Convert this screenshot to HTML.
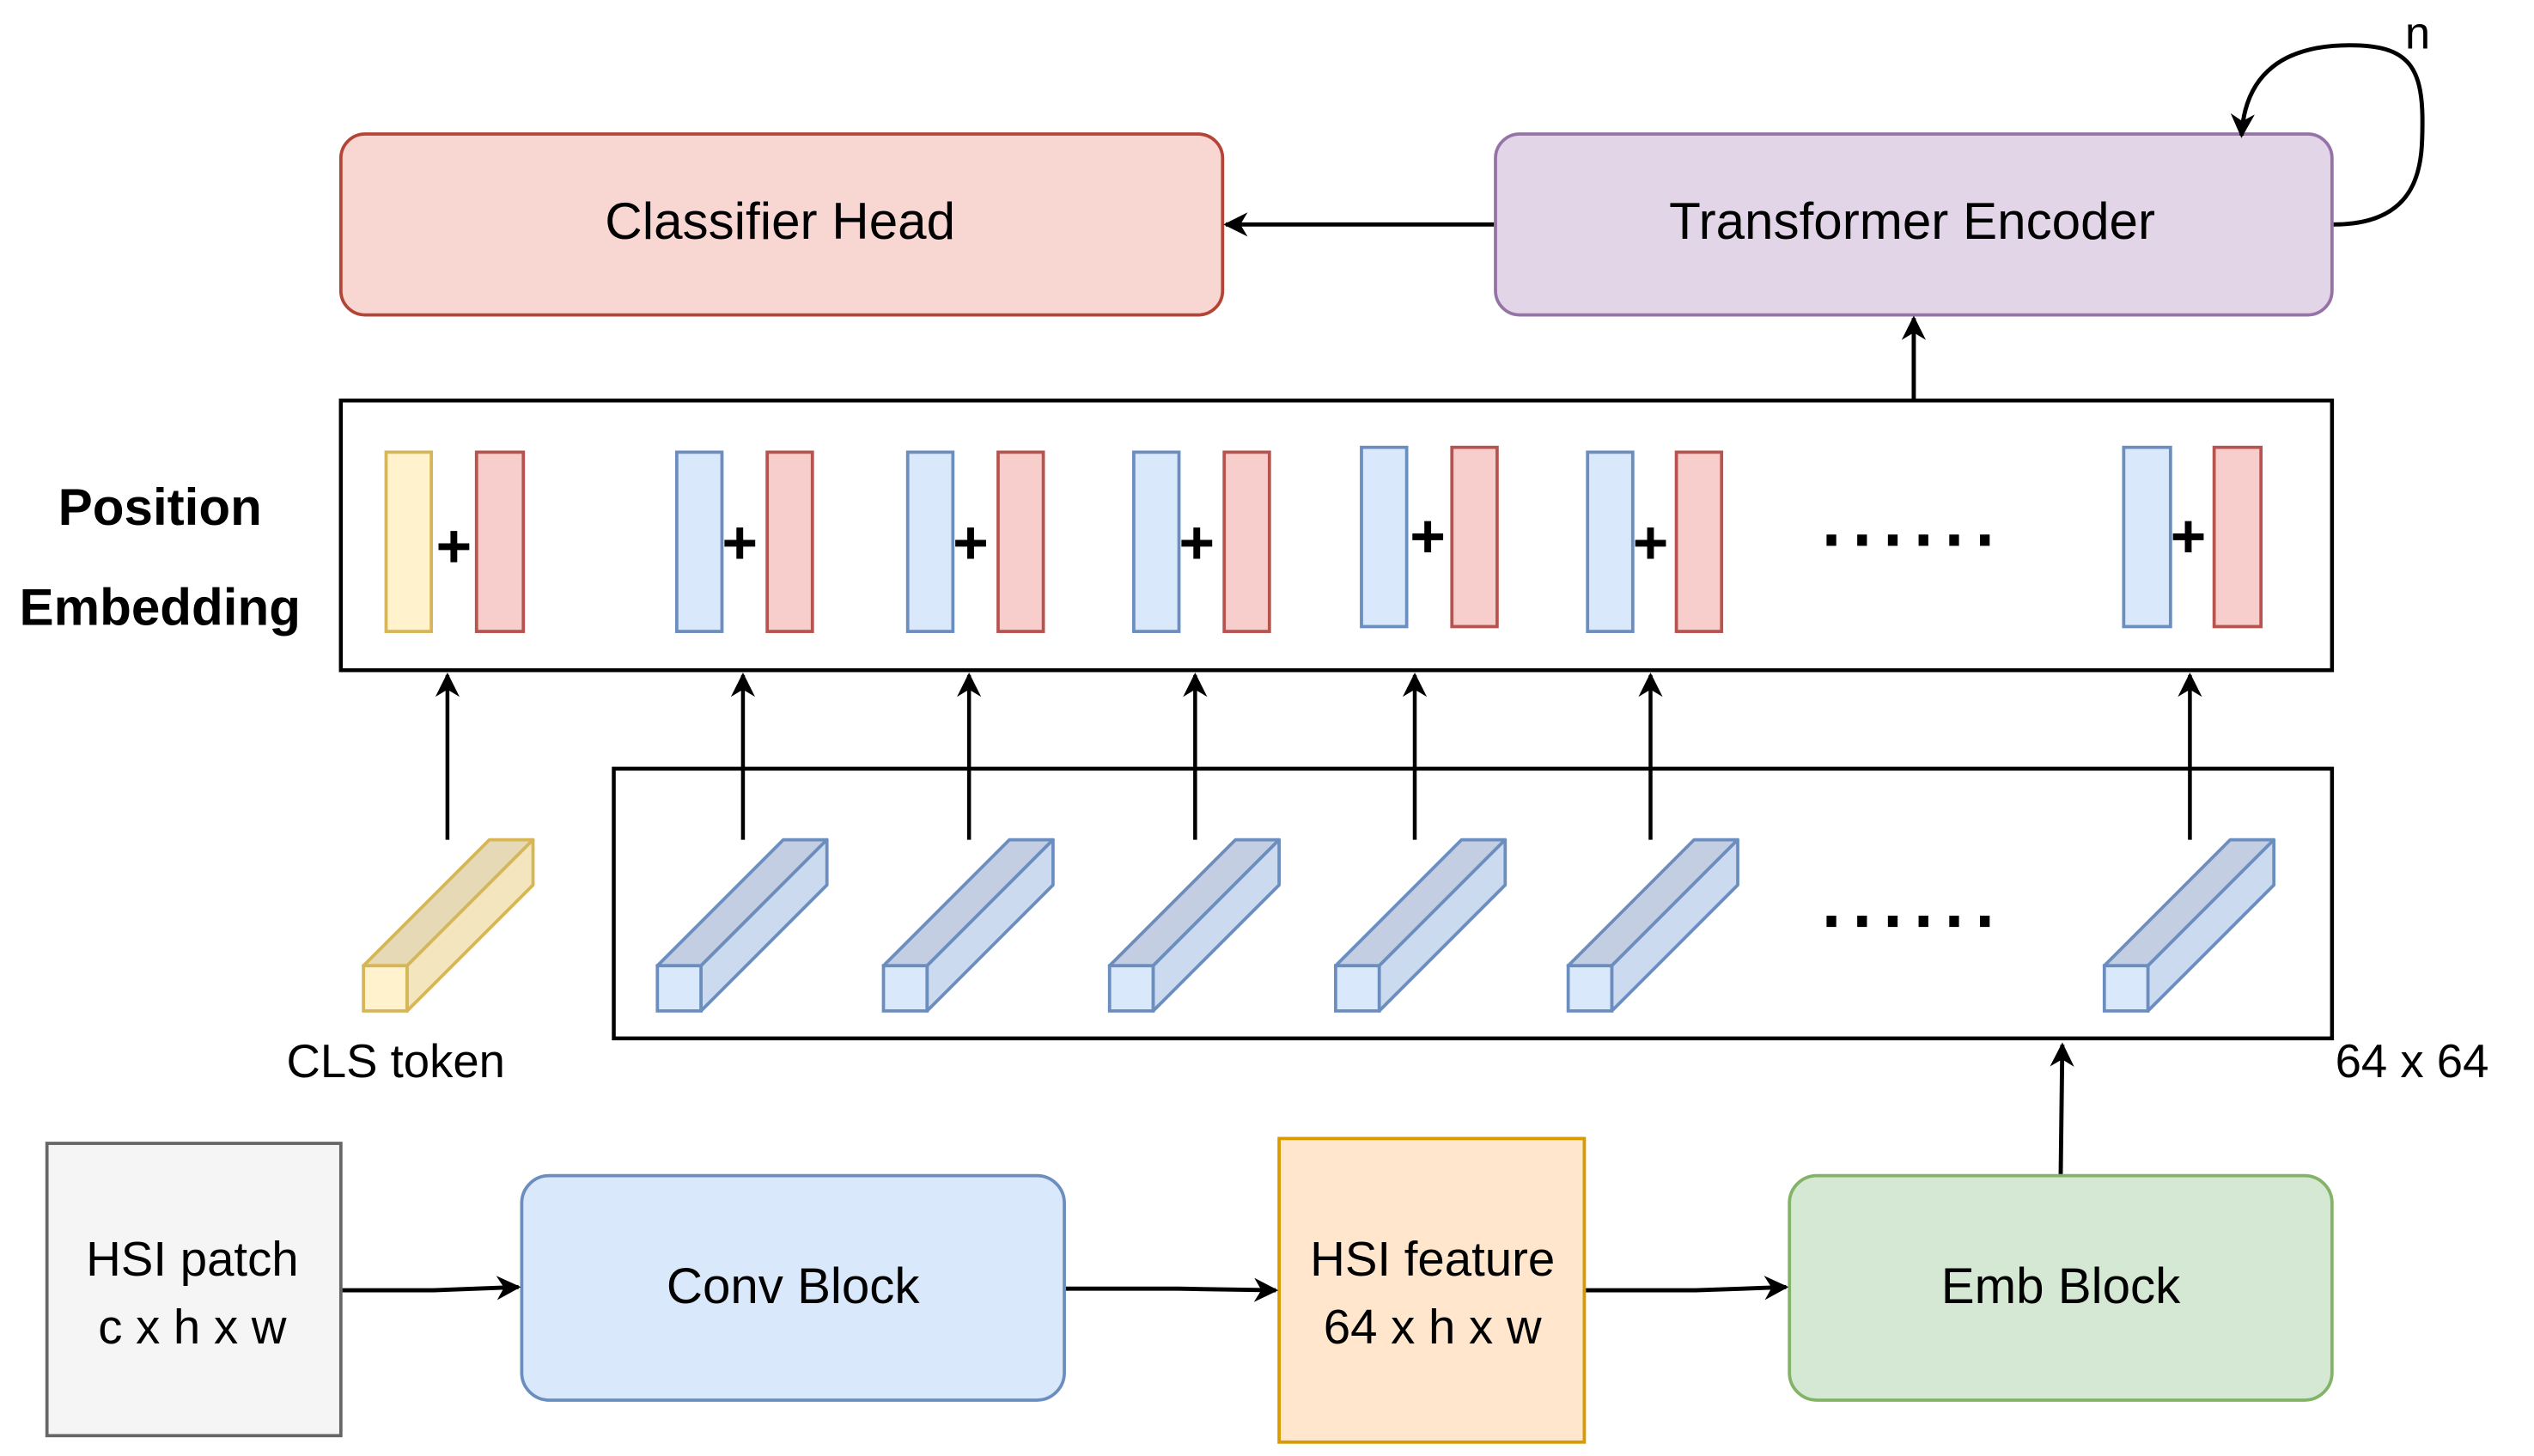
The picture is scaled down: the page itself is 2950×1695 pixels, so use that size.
<!DOCTYPE html>
<html><head><meta charset="utf-8"><style>
html,body{margin:0;padding:0;background:#fff;}
svg{display:block;}
text{font-family:"Liberation Sans",Arial,sans-serif;fill:#000;}
</style></head><body>
<svg width="2950" height="1695" viewBox="0 0 1569 901.6" xmlns="http://www.w3.org/2000/svg">
<defs>
<marker id="ar" viewBox="0 0 10 10" refX="9" refY="5" markerWidth="15" markerHeight="15" markerUnits="userSpaceOnUse" orient="auto">
<path d="M0,0 L10,5 L0,10 L3,5 Z" fill="#000"/>
</marker>
<g id="cube">
<polygon points="0,0 27,0 105,-78 78,-78" fill="#c3cee2" stroke="#6c8ebf" stroke-width="2" stroke-linejoin="round"/>
<polygon points="27,0 27,28 105,-50 105,-78" fill="#ccdaf0" stroke="#6c8ebf" stroke-width="2" stroke-linejoin="round"/>
<rect x="0" y="0" width="27" height="28" fill="#dae8fc" stroke="#6c8ebf" stroke-width="2"/>
</g>
</defs>

<rect x="211" y="83" width="546" height="112" rx="15" fill="#f8d7d3" stroke="#b44435" stroke-width="2"/>
<text x="483" y="148" font-size="32" text-anchor="middle">Classifier Head</text>

<rect x="926" y="83" width="518" height="112" rx="15" fill="#e1d5e7" stroke="#9673a6" stroke-width="2"/>
<text x="1184" y="148" font-size="32" text-anchor="middle">Transformer Encoder</text>
<line x1="925" y1="139" x2="759" y2="139" stroke="#000" stroke-width="2.6" marker-end="url(#ar)"/>
<path d="M1445,139 C1500,139 1500,100 1500,75 C1500,40 1490,28 1455,28 C1415,28 1390,45 1388,84" fill="none" stroke="#000" stroke-width="2.6" marker-end="url(#ar)"/>
<text x="1497" y="30" font-size="28" text-anchor="middle">n</text>

<rect x="211" y="248" width="1233" height="167" fill="#fff" stroke="#000" stroke-width="2.4"/>
<line x1="1185" y1="247" x2="1185" y2="197" stroke="#000" stroke-width="2.6" marker-end="url(#ar)"/>
<text x="99" y="325" font-size="32" font-weight="bold" text-anchor="middle">Position</text>
<text x="99" y="387" font-size="32" font-weight="bold" text-anchor="middle">Embedding</text>

<rect x="239" y="280" width="28" height="111" fill="#fff2cc" stroke="#d6b656" stroke-width="2"/>
<rect x="295" y="280" width="29" height="111" fill="#f8cecc" stroke="#b85450" stroke-width="2"/>
<text x="281" y="351" font-size="38" font-weight="bold" text-anchor="middle">+</text>

<g fill="#dae8fc" stroke="#6c8ebf" stroke-width="2">
<rect x="419" y="280" width="28" height="111"/><rect x="562" y="280" width="28" height="111"/>
<rect x="702" y="280" width="28" height="111"/><rect x="843" y="277" width="28" height="111"/>
<rect x="983" y="280" width="28" height="111"/><rect x="1315" y="277" width="29" height="111"/>
</g>
<g fill="#f8cecc" stroke="#b85450" stroke-width="2">
<rect x="475" y="280" width="28" height="111"/><rect x="618" y="280" width="28" height="111"/>
<rect x="758" y="280" width="28" height="111"/><rect x="899" y="277" width="28" height="111"/>
<rect x="1038" y="280" width="28" height="111"/><rect x="1371" y="277" width="29" height="111"/>
</g>
<g font-size="38" font-weight="bold" text-anchor="middle">
<text x="458" y="349">+</text><text x="601" y="349">+</text><text x="741" y="349">+</text>
<text x="884" y="345">+</text><text x="1022" y="349">+</text><text x="1355" y="345">+</text>
</g>
<g fill="#000">
<rect x="1131" y="331" width="6" height="7"/><rect x="1150" y="331" width="6" height="7"/><rect x="1169" y="331" width="6" height="7"/>
<rect x="1188" y="331" width="6" height="7"/><rect x="1207" y="331" width="6" height="7"/><rect x="1226" y="331" width="6" height="7"/>
<rect x="1131" y="567" width="6" height="7"/><rect x="1150" y="567" width="6" height="7"/><rect x="1169" y="567" width="6" height="7"/>
<rect x="1188" y="567" width="6" height="7"/><rect x="1207" y="567" width="6" height="7"/><rect x="1226" y="567" width="6" height="7"/>
</g>

<rect x="380" y="476" width="1064" height="167" fill="none" stroke="#000" stroke-width="2.4"/>
<use href="#cube" x="407" y="598"/>
<use href="#cube" x="547" y="598"/>
<use href="#cube" x="687" y="598"/>
<use href="#cube" x="827" y="598"/>
<use href="#cube" x="971" y="598"/>
<use href="#cube" x="1303" y="598"/>
<g>
<polygon points="225,598 252,598 330,520 303,520" fill="#e6d9b5" stroke="#d6b656" stroke-width="2" stroke-linejoin="round"/>
<polygon points="252,598 252,626 330,548 330,520" fill="#f3e6bf" stroke="#d6b656" stroke-width="2" stroke-linejoin="round"/>
<rect x="225" y="598" width="27" height="28" fill="#fff2cc" stroke="#d6b656" stroke-width="2"/>
</g>
<g stroke="#000" stroke-width="2.4" marker-end="url(#ar)">
<line x1="277" y1="520" x2="277" y2="418"/>
<line x1="460" y1="520" x2="460" y2="418"/>
<line x1="600" y1="520" x2="600" y2="418"/>
<line x1="740" y1="520" x2="740" y2="418"/>
<line x1="876" y1="520" x2="876" y2="418"/>
<line x1="1022" y1="520" x2="1022" y2="418"/>
<line x1="1356" y1="520" x2="1356" y2="418"/>
</g>
<text x="245" y="667" font-size="29" text-anchor="middle">CLS token</text>
<text x="1446" y="667" font-size="29">64 x 64</text>

<rect x="29" y="708" width="182" height="181" fill="#f5f5f5" stroke="#666" stroke-width="2"/>
<text x="119" y="790" font-size="30" text-anchor="middle">HSI patch</text>
<text x="119" y="832" font-size="30" text-anchor="middle">c x h x w</text>

<rect x="323" y="728" width="336" height="139" rx="17" fill="#dae8fc" stroke="#6c8ebf" stroke-width="2"/>
<text x="491" y="807" font-size="31" text-anchor="middle">Conv Block</text>

<rect x="792" y="705" width="189" height="188" fill="#ffe6cc" stroke="#d79b00" stroke-width="2"/>
<text x="887" y="790" font-size="30" text-anchor="middle">HSI feature</text>
<text x="887" y="832" font-size="30" text-anchor="middle">64 x h x w</text>

<rect x="1108" y="728" width="336" height="139" rx="17" fill="#d5e8d4" stroke="#82b366" stroke-width="2"/>
<text x="1276" y="807" font-size="31" text-anchor="middle">Emb Block</text>

<g stroke="#000" stroke-width="2.6" fill="none" marker-end="url(#ar)">
<path d="M212,799 L268,799 L321,797"/>
<path d="M660,798 L730,798 L790,799"/>
<path d="M982,799 L1050,799 L1106,797"/>
<path d="M1276,727 L1277,647"/>
</g>
</svg>
</body></html>
